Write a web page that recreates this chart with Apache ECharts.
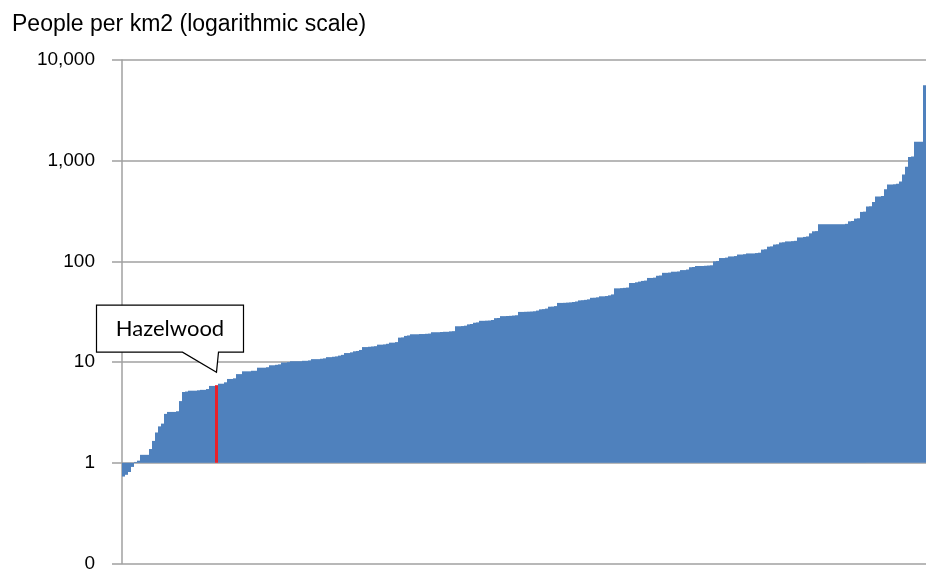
<!DOCTYPE html>
<html>
<head>
<meta charset="utf-8">
<script src="https://cdn.jsdelivr.net/npm/echarts@6/dist/echarts.min.js"></script>
<style>html,body{margin:0;padding:0;background:#fff;}#c{width:926px;height:573px;}</style>
</head>
<body>
<div id="c"></div>
<script>
const titleText = 'People per km2 (logarithmic scale)';
const highlightName = 'Hazelwood';
const highlightIndex = 31;
const density = [
  0.73, 0.76, 0.81, 0.91, 1.02, 1.05, 1.2, 1.2, 1.2, 1.37,
  1.65, 2.0, 2.3, 2.45, 3.06, 3.2, 3.2, 3.2, 3.25, 4.1,
  5.05, 5.1, 5.2, 5.2, 5.2, 5.25, 5.3, 5.3, 5.4, 5.8,
  5.8, 5.9, 6.1, 6.1, 6.3, 6.8, 6.8, 6.9, 7.6, 7.6,
  8.1, 8.1, 8.1, 8.2, 8.2, 8.8, 8.8, 8.8, 8.9, 9.3,
  9.3, 9.4, 9.5, 9.9, 9.9, 10, 10.2, 10.2, 10.2, 10.2,
  10.3, 10.3, 10.4, 10.7, 10.7, 10.7, 10.8, 10.9, 11.2, 11.2,
  11.3, 11.4, 11.6, 11.8, 12.3, 12.3, 12.5, 12.8, 12.9, 13.2,
  14.1, 14.1, 14.2, 14.3, 14.4, 14.9, 14.9, 15, 15.2, 15.6,
  15.6, 15.8, 17.5, 17.6, 18.2, 18.4, 18.9, 18.9, 18.9, 19,
  19, 19.1, 19.2, 19.8, 19.8, 19.8, 19.9, 20, 20, 20.2,
  20.3, 22.7, 22.7, 22.8, 23, 23.7, 23.9, 24.6, 24.8, 25.7,
  25.7, 25.8, 25.9, 26.2, 27.3, 27.4, 28.6, 28.6, 28.7, 28.8,
  29, 29.2, 31.5, 31.5, 31.6, 31.7, 31.8, 32, 32.5, 33.4,
  33.6, 34, 35.5, 35.6, 36, 38.7, 38.7, 38.8, 39, 39.2,
  39.5, 40, 41, 41.2, 41.5, 42, 43.5, 43.6, 44, 45,
  45, 45.3, 46, 47, 54, 54, 54.3, 54.6, 55, 61,
  61, 62, 63, 64, 64.5, 68.5, 68.5, 69, 72, 72.5,
  77, 77, 77.5, 79, 79, 79.5, 82, 82, 83, 87.5,
  88, 90, 90, 90, 90.5, 91, 91.5, 100, 101, 108,
  108, 109, 112, 112, 113, 117, 117, 118, 120, 120,
  120, 121, 122, 131, 132, 140, 141, 147, 148, 154,
  155, 158, 158, 159, 160, 173, 173, 175, 177, 190,
  199, 200, 234, 234, 234, 234, 234, 234, 234, 234,
  234, 236, 250, 252, 266, 268, 310, 312, 350, 352,
  390, 440, 442, 445, 520, 580, 580, 585, 590, 620,
  730, 870, 1090, 1100, 1540, 1540, 1545, 5600
];
const categories = density.map((_, i) => i === highlightIndex ? highlightName : 'Area ' + (i + 1));

const chart = echarts.init(document.getElementById('c'), null, {renderer: 'canvas'});
const gridColor = '#a0a0a0';
const option = {
  animation: false,
  backgroundColor: '#ffffff',
  title: {
    text: titleText, left: 7, top: 8,
    textStyle: {fontFamily: 'Liberation Sans, Arial', fontSize: 23, fontWeight: 'normal', color: '#000'}
  },
  grid: {left: 122, right: 0, top: 60, bottom: 8},
  xAxis: {
    type: 'category', data: categories,
    axisLine: {show: false}, axisTick: {show: false}, axisLabel: {show: false},
    splitLine: {show: false}
  },
  yAxis: {
    type: 'log', logBase: 10, min: 0.1, max: 10000, splitNumber: 5,
    axisLine: {show: true, lineStyle: {color: gridColor, width: 1.5}},
    axisTick: {show: true, inside: false, length: 10, lineStyle: {color: gridColor, width: 1.5}},
    splitLine: {show: true, lineStyle: {color: gridColor, width: 1.5}},
    axisLabel: {
      margin: 27, color: '#000', fontFamily: 'Liberation Sans, Arial', fontSize: 19,
      formatter: v => v < 1 ? '0' : Math.round(v).toLocaleString('en-US')
    }
  },
  series: [{
    type: 'bar',
    data: density.map((v, i) => i === highlightIndex ? {value: v, itemStyle: {color: '#e8202a'}} : v),
    barCategoryGap: '0%', barGap: '0%',
    itemStyle: {color: '#4f81bd'}
  }]
};
chart.setOption(option);

const p = chart.convertToPixel({seriesIndex: 0}, [highlightIndex, density[highlightIndex]]);
const tx = p[0], ty = p[1] - 13;
const L = tx - 120, R = tx + 27, T = ty - 67, B = ty - 20;
chart.setOption({
  graphic: [
    {
      type: 'polygon', z: 100,
      shape: {points: [[L, T], [R, T], [R, B], [tx + 2, B], [tx, ty], [tx - 34, B], [L, B]]},
      style: {fill: '#fff', stroke: '#000', lineWidth: 1.2}
    },
    {
      type: 'text', z: 101, x: (L + R) / 2, y: (T + B) / 2,
      style: {text: highlightName, fontFamily: 'Lato', fontSize: 22, fill: '#000', align: 'center', verticalAlign: 'middle'}
    }
  ]
});
</script>
</body>
</html>
